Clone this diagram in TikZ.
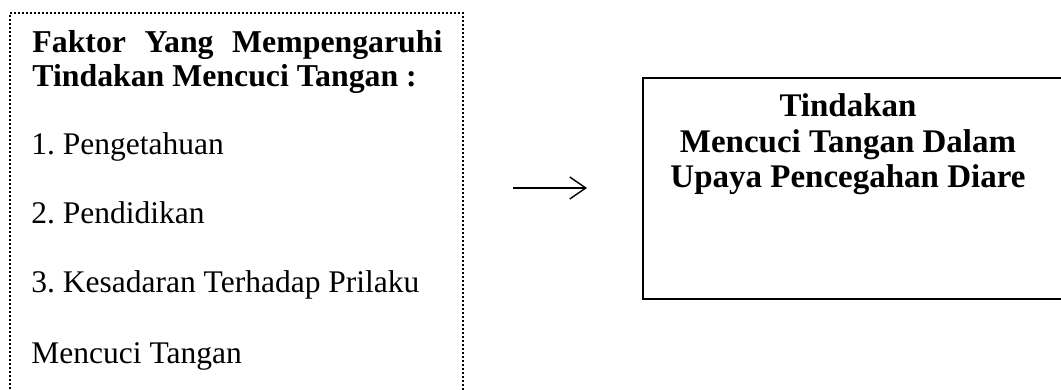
\documentclass[tikz,border=0pt]{standalone}
\usepackage{fontspec}
\setmainfont{Liberation Serif}
\usetikzlibrary{arrows.meta}
\frenchspacing

\begin{document}
\begin{tikzpicture}[x=1pt, y=1pt, line width=0.3mm,
    teks/.style={anchor=base west, inner sep=0, font=\fontsize{31.5}{34}\selectfont},
    judul/.style={anchor=base west, inner sep=0, font=\bfseries\fontsize{31.8}{34}\selectfont}]
      \clip (0,0) rectangle (1061,390);
      \fill[white] (0,0) rectangle (1061,390);

      % left box (runs past the bottom edge)
      \node(Faktor) [draw, line width=2pt, dash pattern=on 2pt off 2pt, anchor=north west,
                     inner sep=0, minimum width=453, minimum height=420] at (9,378) {};
        \node(Judul1) [judul] at (32,337) {\makebox[410pt][s]{Faktor Yang Mempengaruhi}};
        \node(Judul2) [judul] at (32,303) {Tindakan Mencuci Tangan :};
        \node(Item1) [teks] at (31,235) {1. Pengetahuan};
        \node(Item2) [teks] at (31,166) {2. Pendidikan};
        \node(Item3) [teks] at (31,97) {3. Kesadaran Terhadap Prilaku};
        \node(Item4) [teks] at (31,26) {Mencuci Tangan};

      % right box (cut at the right edge)
      \node(Tindakan) [draw, line width=2.2pt, anchor=north west, inner sep=0,
                       minimum width=440, minimum height=221] at (642,313) {};
        \node(TindakanTeks) [anchor=base, inner sep=0, align=center,
                             font=\bfseries\fontsize{33}{35.5}\selectfont] at (848,202)
              {Tindakan\\Mencuci Tangan Dalam\\Upaya Pencegahan Diare};

      \coordinate(PanahA) at (513,202);
      \coordinate(PanahB) at (587,202);
      \draw[line width=1.4pt, -{Straight Barb[length=16pt, width=22pt, line width=1.4pt]}] (PanahA) -- (PanahB);
\end{tikzpicture}
\end{document}
